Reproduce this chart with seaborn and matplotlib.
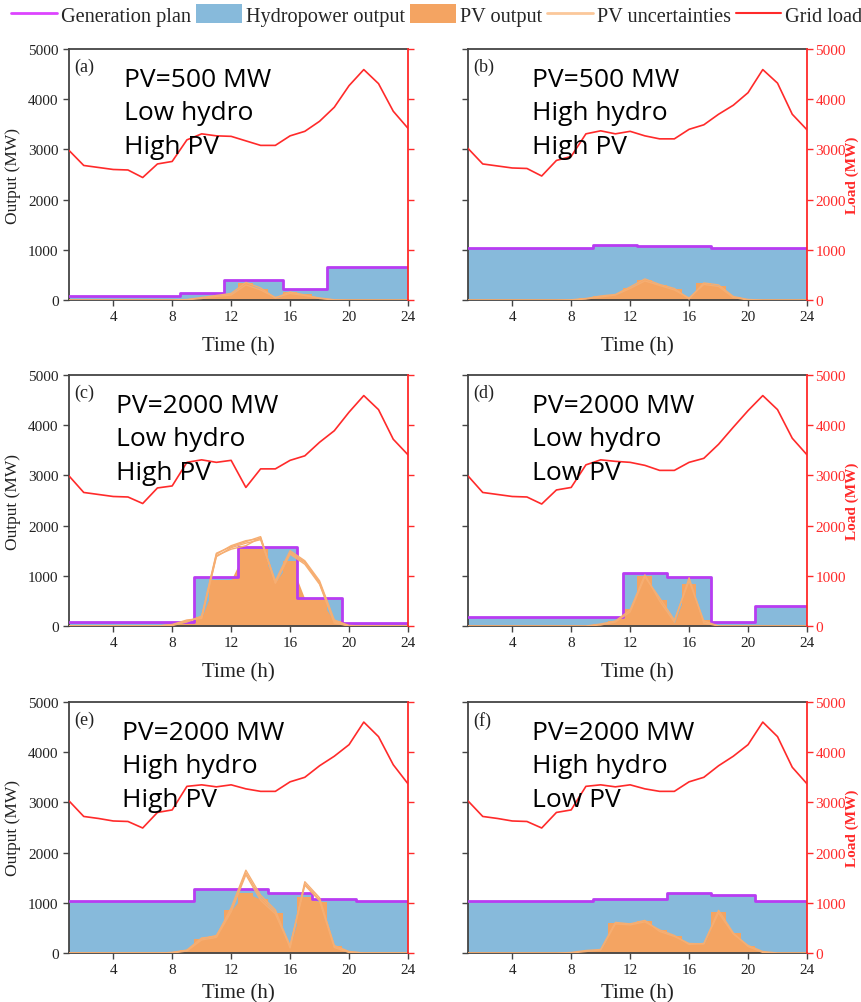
import numpy as np
import matplotlib
matplotlib.use("Agg")
import matplotlib.pyplot as plt
import seaborn as sns
from matplotlib.lines import Line2D
from matplotlib.patches import Patch

sns.set_style("ticks")
plt.rcParams['font.family'] = ['Liberation Serif', 'DejaVu Serif']

hours = np.arange(1, 25)
xticks = [4, 8, 12, 16, 20, 24]
yticks = [0, 1000, 2000, 3000, 4000, 5000]

panel_tags = ["(a)", "(b)", "(c)", "(d)", "(e)", "(f)"]
panel_notes = ["PV=500 MW\nLow hydro\nHigh PV",
               "PV=500 MW\nHigh hydro\nHigh PV",
               "PV=2000 MW\nLow hydro\nHigh PV",
               "PV=2000 MW\nLow hydro\nLow PV",
               "PV=2000 MW\nHigh hydro\nHigh PV",
               "PV=2000 MW\nHigh hydro\nLow PV"]

# Grid load (MW), hours 1..24
load_a = [2980, 2680, 2640, 2600, 2590, 2440, 2710, 2760, 3190, 3310, 3270, 3260, 3170, 3080, 3080, 3270, 3360, 3560, 3840, 4270, 4590, 4310, 3760, 3420]
load_b = [3020, 2710, 2670, 2630, 2620, 2470, 2780, 2860, 3310, 3370, 3310, 3360, 3270, 3210, 3210, 3400, 3490, 3700, 3880, 4130, 4590, 4320, 3700, 3390]
load_c = [2990, 2660, 2620, 2580, 2570, 2440, 2750, 2790, 3260, 3310, 3260, 3300, 2760, 3130, 3130, 3300, 3390, 3660, 3890, 4260, 4590, 4310, 3720, 3410]
load_d = [2990, 2660, 2620, 2580, 2570, 2430, 2710, 2760, 3210, 3310, 3280, 3260, 3200, 3100, 3100, 3260, 3340, 3620, 3960, 4290, 4590, 4310, 3740, 3410]
load_e = [3030, 2720, 2680, 2630, 2620, 2490, 2800, 2850, 3320, 3350, 3310, 3350, 3270, 3220, 3220, 3410, 3500, 3730, 3920, 4150, 4600, 4310, 3750, 3370]
load_f = [3030, 2720, 2680, 2630, 2620, 2490, 2800, 2850, 3320, 3350, 3310, 3350, 3270, 3220, 3220, 3410, 3500, 3730, 3920, 4150, 4600, 4310, 3700, 3370]

# Generation plan / hydropower output (MW)
plan_a = [80, 80, 80, 80, 80, 80, 80, 80, 130, 130, 130, 400, 400, 400, 400, 210, 210, 210, 660, 660, 660, 660, 660, 660]
plan_b = [1030, 1030, 1030, 1030, 1030, 1030, 1030, 1030, 1030, 1090, 1090, 1090, 1070, 1070, 1070, 1070, 1070, 1040, 1040, 1040, 1030, 1030, 1030, 1030]
plan_c = [70, 70, 70, 70, 70, 70, 70, 70, 70, 980, 980, 980, 1570, 1570, 1570, 1570, 560, 560, 560, 60, 60, 60, 60, 60]
plan_d = [170, 170, 170, 170, 170, 170, 170, 170, 170, 170, 170, 1060, 1060, 1060, 970, 970, 970, 70, 70, 70, 400, 400, 400, 400]
plan_e = [1030, 1030, 1030, 1030, 1030, 1030, 1030, 1030, 1030, 1270, 1270, 1270, 1270, 1270, 1190, 1190, 1190, 1080, 1080, 1080, 1030, 1030, 1030, 1030]
plan_f = [1030, 1030, 1030, 1030, 1030, 1030, 1030, 1030, 1030, 1080, 1080, 1080, 1080, 1080, 1200, 1200, 1200, 1150, 1150, 1150, 1030, 1030, 1030, 1030]

# PV output (MW)
pv_a = [0, 0, 0, 0, 0, 0, 0, 0, 10, 40, 80, 110, 330, 220, 30, 150, 110, 40, 5, 0, 0, 0, 0, 0]
pv_b = [0, 0, 0, 0, 0, 0, 0, 5, 30, 70, 100, 240, 400, 300, 220, 30, 330, 280, 60, 10, 0, 0, 0, 0]
pv_c = [0, 0, 0, 0, 0, 0, 0, 20, 80, 170, 920, 920, 1530, 1530, 870, 1300, 540, 540, 90, 10, 0, 0, 0, 0]
pv_d = [0, 0, 0, 0, 0, 0, 0, 0, 0, 30, 100, 330, 1000, 520, 60, 830, 110, 0, 0, 0, 0, 0, 0, 0]
pv_e = [0, 0, 0, 0, 0, 0, 0, 10, 60, 280, 330, 850, 1200, 1070, 800, 150, 1120, 1020, 130, 20, 0, 0, 0, 0]
pv_f = [0, 0, 0, 0, 0, 0, 0, 10, 40, 60, 600, 600, 630, 450, 330, 180, 180, 820, 390, 130, 20, 0, 0, 0]

# PV uncertainty scenarios (MW)
unc_a = [[0, 0, 0, 0, 0, 0, 0, 0, 10, 50, 90, 130, 350, 240, 40, 160, 100, 30, 0, 0, 0, 0, 0, 0],
         [0, 0, 0, 0, 0, 0, 0, 0, 5, 30, 70, 100, 300, 200, 50, 130, 90, 40, 5, 0, 0, 0, 0, 0]]
unc_b = [[0, 0, 0, 0, 0, 0, 0, 5, 30, 80, 110, 260, 420, 310, 230, 20, 340, 300, 70, 10, 0, 0, 0, 0],
         [0, 0, 0, 0, 0, 0, 0, 0, 20, 60, 100, 230, 380, 290, 200, 40, 310, 270, 50, 0, 0, 0, 0, 0]]
unc_c = [[0, 0, 0, 0, 0, 0, 0, 20, 100, 170, 1400, 1530, 1600, 1760, 880, 1470, 1280, 870, 100, 0, 0, 0, 0, 0],
         [0, 0, 0, 0, 0, 0, 0, 10, 80, 200, 1450, 1580, 1680, 1780, 850, 1430, 1230, 830, 60, 0, 0, 0, 0, 0],
         [0, 0, 0, 0, 0, 0, 0, 30, 120, 150, 1380, 1560, 1650, 1720, 900, 1500, 1300, 900, 120, 10, 0, 0, 0, 0],
         [0, 0, 0, 0, 0, 0, 0, 20, 90, 180, 1430, 1600, 1700, 1740, 860, 1450, 1260, 850, 80, 0, 0, 0, 0, 0]]
unc_d = [[0, 0, 0, 0, 0, 0, 0, 0, 0, 40, 100, 320, 1020, 500, 80, 960, 60, 0, 0, 0, 0, 0, 0, 0],
         [0, 0, 0, 0, 0, 0, 0, 0, 0, 20, 80, 280, 980, 560, 120, 900, 100, 0, 0, 0, 0, 0, 0, 0]]
unc_e = [[0, 0, 0, 0, 0, 0, 0, 10, 60, 300, 330, 900, 1650, 1150, 860, 100, 1420, 1100, 130, 20, 0, 0, 0, 0],
         [0, 0, 0, 0, 0, 0, 0, 10, 50, 280, 350, 850, 1600, 1100, 820, 150, 1380, 1060, 150, 30, 0, 0, 0, 0],
         [0, 0, 0, 0, 0, 0, 0, 0, 40, 260, 310, 820, 1560, 1050, 780, 130, 1350, 1040, 110, 10, 0, 0, 0, 0]]
unc_f = [[0, 0, 0, 0, 0, 0, 0, 10, 50, 70, 610, 580, 650, 430, 330, 190, 180, 850, 400, 130, 10, 0, 0, 0],
         [0, 0, 0, 0, 0, 0, 0, 0, 30, 60, 580, 560, 620, 460, 350, 170, 190, 800, 380, 150, 30, 0, 0, 0]]

loads = [load_a, load_b, load_c, load_d, load_e, load_f]
plans = [plan_a, plan_b, plan_c, plan_d, plan_e, plan_f]
pvs = [pv_a, pv_b, pv_c, pv_d, pv_e, pv_f]
uncs = [unc_a, unc_b, unc_c, unc_d, unc_e, unc_f]

HYDRO = "#87BADB"
PVC = "#F4A462"
UNC = "#F6AE72"
PLAN = "#B83CF2"
LOADC = "#FF2A2A"
SPINE = "#444444"

W, H = 862, 1003
fig = plt.figure(figsize=(W / 100, H / 100), dpi=100)

col_left = [69, 468]
col_w = 339
row_top = [50, 376, 703]
row_h = 251
xlabel_pad = [9, 9, 5]
note_x = [0.162, 0.19, 0.14, 0.19, 0.157, 0.19]

for i in range(6):
    r, c = divmod(i, 2)
    left = col_left[c] / W
    bottom = 1 - (row_top[r] + row_h) / H
    ax = fig.add_axes([left, bottom, col_w / W, row_h / H])

    ax.fill_between(hours, plans[i], step="mid", color=HYDRO, lw=0, zorder=1)
    ax.fill_between(hours, pvs[i], step="mid", color=PVC, lw=0, zorder=2)
    ax.fill_between(hours, pvs[i], color=PVC, lw=0, zorder=2)
    sns.lineplot(x=hours, y=plans[i], drawstyle="steps-mid", color=PLAN, lw=2.0, ax=ax, zorder=3)
    for u in uncs[i]:
        sns.lineplot(x=hours, y=u, color=UNC, lw=1.0, ax=ax, zorder=4)

    ax.set_xlim(1, 24)
    ax.set_ylim(0, 5000)
    ax.set_xticks(xticks)
    ax.set_yticks(yticks)
    ax.tick_params(axis="both", direction="out", length=4, width=1, colors=SPINE,
                   labelsize=11, labelcolor="#222222")
    for s in ["left", "top", "bottom"]:
        ax.spines[s].set_color(SPINE)
        ax.spines[s].set_linewidth(1.3)
    ax.spines["right"].set_visible(False)
    ax.set_xlabel("Time (h)", fontsize=15, labelpad=xlabel_pad[r], color="#222222")
    if c == 0:
        ax.set_ylabel("Output (MW)", fontsize=12.5, labelpad=5, color="#222222")
    else:
        ax.set_ylabel("")
        ax.tick_params(axis="y", labelleft=False)

    ax2 = ax.twinx()
    sns.lineplot(x=hours, y=loads[i], color=LOADC, lw=1.2, ax=ax2)
    ax2.set_ylim(0, 5000)
    ax2.set_xlim(1, 24)
    ax2.set_yticks(yticks)
    ax2.spines["right"].set_color(LOADC)
    ax2.spines["right"].set_linewidth(1.3)
    for s in ["left", "top", "bottom"]:
        ax2.spines[s].set_visible(False)
    ax2.tick_params(axis="y", direction="out", length=4, width=1, colors=LOADC,
                    labelsize=11, pad=2)
    if c == 1:
        ax2.set_ylabel("Load (MW)", fontsize=11, fontweight="bold", color=LOADC, labelpad=0)
    else:
        ax2.set_ylabel("")
        ax2.tick_params(axis="y", labelright=False)

    ax.text(0.015, 0.965, panel_tags[i], transform=ax.transAxes, fontsize=13,
            va="top", ha="left", color="#222222", zorder=6)
    ax2.text(note_x[i], 0.93, panel_notes[i], transform=ax.transAxes,
             family=["Open Sans", "DejaVu Sans"], fontsize=19, va="top", ha="left",
             linespacing=1.45, color="black", zorder=6)

handles = [Line2D([0], [0], color="#DD44FF", lw=2),
           Patch(facecolor=HYDRO, edgecolor="none"),
           Patch(facecolor=PVC, edgecolor="none"),
           Line2D([0], [0], color="#FBC89A", lw=2),
           Line2D([0], [0], color=LOADC, lw=1.5)]
labels = ["Generation plan", "Hydropower output", "PV output", "PV uncertainties", "Grid load"]
fig.legend(handles, labels, loc="center", bbox_to_anchor=(0.507, 1 - 16 / H), ncol=5,
           frameon=False, fontsize=14.6, handlelength=2.25, handleheight=1.05,
           handletextpad=0.2, columnspacing=0.25, borderpad=0, borderaxespad=0)

fig.savefig("out.png", dpi=100)
